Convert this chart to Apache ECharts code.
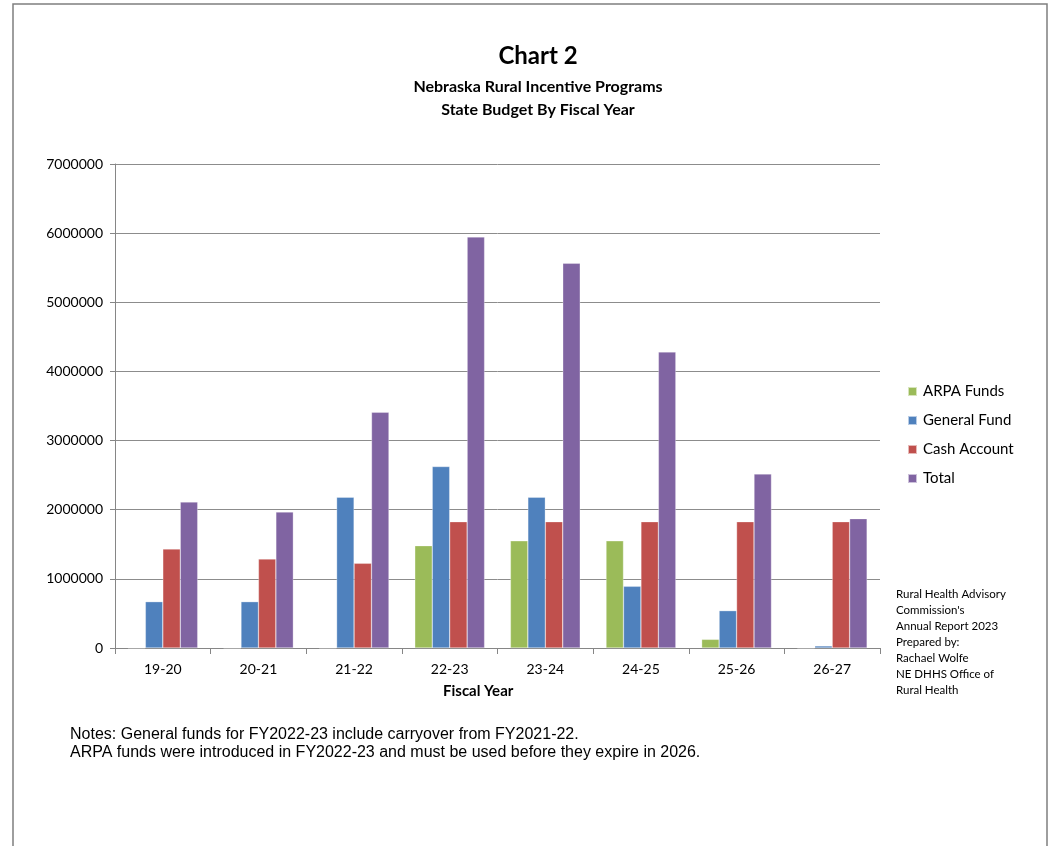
<!DOCTYPE html>
<html>
<head>
<meta charset="utf-8">
<script src="https://cdn.jsdelivr.net/npm/echarts@6/dist/echarts.min.js"></script>
<style>
html,body{margin:0;padding:0;background:#fff;}
#chart{width:1054px;height:846px;}
</style>
</head>
<body>
<div id="chart"></div>
<script>
const categories = ['19-20','20-21','21-22','22-23','23-24','24-25','25-26','26-27'];
const arpaFunds   = [0, 0, 0, 1480000, 1550000, 1550000, 125000, 0];
const generalFund = [670000, 670000, 2180000, 2625000, 2180000, 892000, 540000, 30000];
const cashAccount = [1432000, 1287000, 1225000, 1827000, 1827000, 1827000, 1827000, 1827000];
const totalFunds  = [2112000, 1967000, 3409000, 5945000, 5564000, 4282000, 2517000, 1871000];
const yTicks = { min: 0, max: 7000000, interval: 1000000 };
const seriesNames = ['ARPA Funds','General Fund','Cash Account','Total'];
const colors = ['#9BBB59','#4F81BD','#C0504D','#8064A2'];
const sideNote = ["Rural Health Advisory","Commission's","Annual Report 2023","Prepared by:","Rachael Wolfe","NE DHHS Office of","Rural Health"];
const notes = ["Notes: General funds for FY2022-23 include carryover from FY2021-22.",
               "ARPA funds were introduced in FY2022-23 and must be used before they expire in 2026."];

const font = 'Lato, "Open Sans", sans-serif';
const chart = echarts.init(document.getElementById('chart'), null, {renderer:'canvas'});

function mkSeries(name, data, i){
  return {
    name: name, type: 'bar', data: data,
    barGap: '0%', barCategoryGap: '27%',
    itemStyle: { color: colors[i], borderColor: 'rgba(255,255,255,0.6)', borderWidth: 0.5 },
    emphasis: { disabled: true }
  };
}

chart.setOption({
  animation: false,
  backgroundColor: '#fff',
  color: colors,
  title: [
    { text: 'Chart 2', left: 533, top: 39, textAlign: 'center',
      textStyle: { fontFamily: font, fontSize: 24, fontWeight: 'bold', color: '#000' } },
    { text: 'Nebraska Rural Incentive Programs\nState Budget By Fiscal Year', left: 533, top: 70, textAlign: 'center',
      textStyle: { fontFamily: font, fontSize: 16, fontWeight: 'bold', color: '#000', lineHeight: 23 } }
  ],
  legend: {
    orient: 'vertical', left: 902, top: 379,
    itemWidth: 9, itemHeight: 9, itemGap: 14, icon: 'rect',
    data: seriesNames,
    textStyle: { fontFamily: font, fontSize: 15, color: '#000', padding: [0,0,0,1] }
  },
  grid: { left: 115, right: 174, top: 164, bottom: 198, containLabel: false },
  xAxis: {
    type: 'category', data: categories,
    axisLine: { lineStyle: { color: '#868686', width: 1 } },
    axisTick: { show: true, alignWithLabel: false, length: 6, lineStyle: { color: '#868686' } },
    axisLabel: { fontFamily: font, fontSize: 14, color: '#000', margin: 14 }
  },
  yAxis: {
    type: 'value', min: yTicks.min, max: yTicks.max, interval: yTicks.interval,
    axisLine: { show: true, lineStyle: { color: '#868686', width: 1 } },
    axisTick: { show: true, length: 5, lineStyle: { color: '#868686' } },
    splitLine: { lineStyle: { color: '#8c8c8c', width: 1 } },
    axisLabel: { fontFamily: font, fontSize: 14, color: '#000', margin: 12, formatter: v => String(v) }
  },
  graphic: [
    { type: 'rect', shape: { x: 13, y: 4, width: 1034, height: 900 }, z: -1,
      style: { fill: 'none', stroke: '#7f7f7f', lineWidth: 1.5 } },
    { type: 'text', left: 443, top: 684,
      style: { text: 'Fiscal Year', font: 'bold 15px ' + font, fill: '#000' } },
    { type: 'text', left: 896, top: 586,
      style: { text: sideNote.join('\n'), font: '11.5px ' + font, fill: '#000', lineHeight: 16 } },
    { type: 'text', left: 70, top: 726,
      style: { text: notes.join('\n'), font: '16px "Liberation Sans", Arial, sans-serif', fill: '#000', lineHeight: 18 } }
  ],
  series: [
    mkSeries(seriesNames[0], arpaFunds, 0),
    mkSeries(seriesNames[1], generalFund, 1),
    mkSeries(seriesNames[2], cashAccount, 2),
    mkSeries(seriesNames[3], totalFunds, 3)
  ]
});
</script>
</body>
</html>
